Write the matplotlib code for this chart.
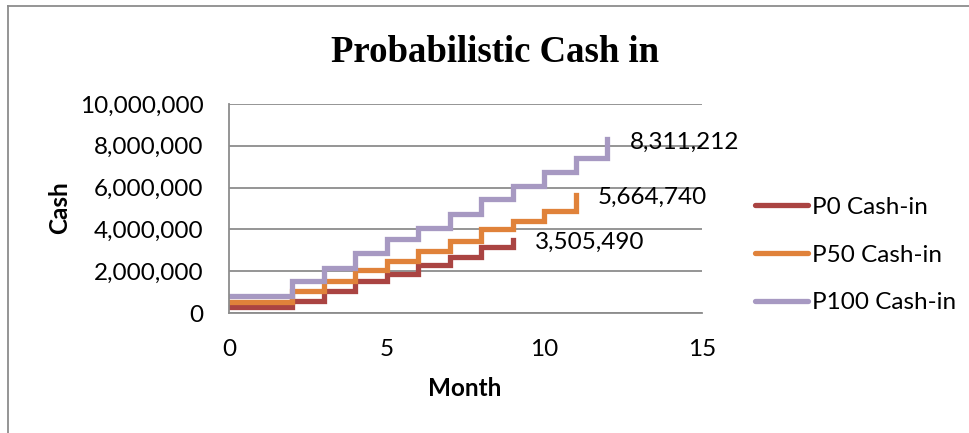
import matplotlib.pyplot as plt
from matplotlib.lines import Line2D

# step series (month where each step starts, cash value)
p0_months = [0, 2, 3, 4, 5, 6, 7, 8, 9]
p0_cash = [300000, 590000, 1040000, 1520000, 1870000, 2320000, 2690000, 3170000, 3505490]

p50_months = [0, 2, 3, 4, 5, 6, 7, 8, 9, 10, 11]
p50_cash = [530000, 1040000, 1550000, 2080000, 2510000, 2990000, 3440000, 4000000,
            4400000, 4880000, 5664740]

p100_months = [0, 2, 3, 4, 5, 6, 7, 8, 9, 10, 11, 12]
p100_cash = [820000, 1520000, 2160000, 2850000, 3520000, 4080000, 4720000, 5440000,
             6080000, 6770000, 7440000, 8311212]

series_names = ["P0 Cash-in", "P50 Cash-in", "P100 Cash-in"]
colors = ["#AA4442", "#E0823A", "#A799C2"]

x_ticks = [0, 5, 10, 15]
y_ticks = [0, 2000000, 4000000, 6000000, 8000000, 10000000]

plt.rcParams["font.family"] = ["Lato", "DejaVu Sans"]
FS = 17.5

fig = plt.figure(figsize=(9.7, 4.33), dpi=100)
W, H = 970, 433
ax = fig.add_axes([229 / W, 1 - 313 / H, (702 - 229) / W, (313 - 104) / H])

series = [(p0_months, p0_cash), (p50_months, p50_cash), (p100_months, p100_cash)]
for (m, c), name, col in zip(series, series_names, colors):
    ax.step(m, c, where="post", color=col, lw=3.8, label=name, solid_joinstyle="miter")
    ax.annotate(f"{c[-1]:,}", xy=(m[-1], c[-1]), xytext=(22, -3),
                textcoords="offset pixels", va="center", ha="left", fontsize=FS)

ax.set_xlim(0, 15)
ax.set_ylim(0, 10000000)
ax.set_xticks(x_ticks)
ax.set_yticks(y_ticks)
ax.set_yticklabels([f"{v:,}" for v in y_ticks])
ax.tick_params(length=0, labelsize=FS, pad=18.5)
ax.yaxis.grid(True, color="#8C8C8C", lw=1.3)
ax.set_axisbelow(True)
for s in ["top", "right"]:
    ax.spines[s].set_visible(False)
for s in ["left", "bottom"]:
    ax.spines[s].set_color("#8C8C8C")
    ax.spines[s].set_linewidth(1.3)

fig.text(495 / W, 1 - 53 / H, "Probabilistic Cash in", ha="center", va="center",
         fontsize=26.5, fontweight="bold", family="Liberation Serif")
fig.text(60 / W, 1 - 208 / H, "Cash", rotation=90, ha="center", va="center",
         fontsize=FS, fontweight="bold")
fig.text(465 / W, 1 - 388 / H, "Month", ha="center", va="center",
         fontsize=FS, fontweight="bold")

handles = [Line2D([], [], color=col, lw=3.8, solid_capstyle="round") for col in colors]
fig.legend(handles, series_names, loc="center left", bbox_to_anchor=(755 / W, 1 - 255 / H),
           frameon=False, fontsize=FS, handlelength=2.2, handletextpad=0.15,
           labelspacing=1.1, borderpad=0, borderaxespad=0)

# outer chart border (only left and top edges visible in the crop)
fig.add_artist(Line2D([8 / W, 8 / W], [0, 1 - 6 / H], color="#8C8C8C", lw=1.3))
fig.add_artist(Line2D([8 / W, 1], [1 - 6 / H, 1 - 6 / H], color="#8C8C8C", lw=1.3))

fig.savefig("out.png", dpi=100)
